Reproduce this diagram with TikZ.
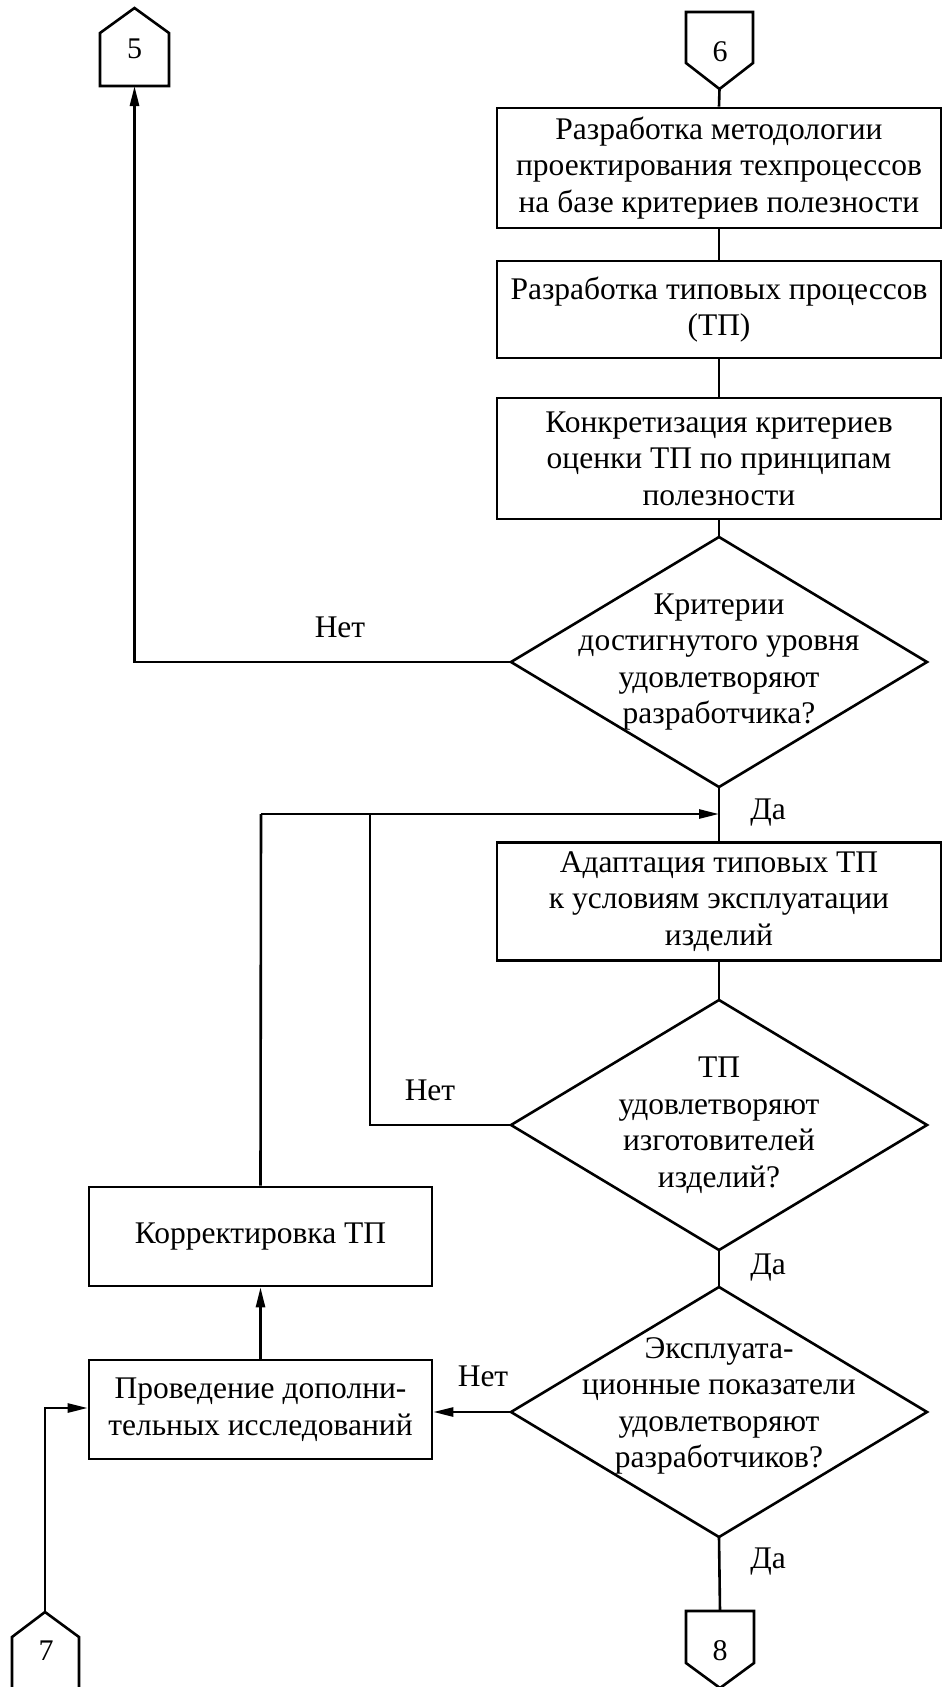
\documentclass[tikz,border=0pt]{standalone}
\usepackage{fontspec}
\setmainfont{Liberation Serif}
\usetikzlibrary{arrows.meta}
\newcommand\blockfont{\fontsize{31.5}{36.5}\selectfont}
\newcommand\digitfont{\fontsize{30}{30}\selectfont}

\begin{document}
\begin{tikzpicture}[x=1pt,y=-1pt,
  every node/.style={font=\blockfont},
  ln/.style={line width=2.6pt},
  arr/.style={ln, -{Triangle[length=20pt,width=9pt]}},
  proc/.style={draw, ln, align=center, inner sep=0pt, minimum width=444pt},
  side/.style={draw, ln, align=center, inner sep=0pt, minimum width=343pt, minimum height=99pt},
  dtext/.style={align=center, inner sep=0pt},
  lbl/.style={inner sep=0pt},
  digit/.style={font=\digitfont, inner sep=0pt}
]
\useasboundingbox (0,0) rectangle (943,1687);

% off-page connectors
\draw[ln] (100,86) -- (100,33) -- (134.5,8) -- (169,33) -- (169,86) -- cycle;
\node[digit] (c5) at (134.5,49) {5};
\coordinate (c5b) at (134.5,86);

\draw[ln] (686,12) -- (753,12) -- (753,63) -- (719.5,89) -- (686,63) -- cycle;
\node[digit] (c6) at (720,52) {6};
\coordinate (c6b) at (719.5,89);

\draw[ln] (12,1690) -- (12,1637) -- (45,1612) -- (79,1637) -- (79,1690);
\node[digit] (c7) at (46,1651) {7};
\coordinate (c7t) at (45,1612);

\draw[ln] (686,1611) -- (754,1611) -- (754,1663) -- (720,1688) -- (686,1663) -- cycle;
\node[digit] (c8) at (720,1651) {8};
\coordinate (c8t) at (720,1611);

% process blocks
\node[proc, minimum height=120pt] (b1) at (719,168)
  {Разработка методологии\\проектирования техпроцессов\\на базе критериев полезности};
\node[proc, minimum height=97pt] (b2) at (719,309.5)
  {Разработка типовых процессов\\(ТП)};
\node[proc, minimum height=121pt] (b3) at (719,458.5)
  {Конкретизация критериев\\оценки ТП по принципам\\полезности};
\node[proc, minimum height=118pt] (b4) at (719,901.5)
  {Адаптация типовых ТП\\к условиям эксплуатации\\изделий};
\node[side] (korr) at (260.5,1236.5) {Корректировка ТП};
\node[side] (prov) at (260.5,1409.5) {Проведение дополни-\\тельных исследований};

% decisions
\node[dtext] (d1) at (719,662)
  {Критерии\\достигнутого уровня\\удовлетворяют\\разработчика?};
\draw[ln] (d1.center) ++(0,-125) coordinate (d1n) -- ++(208,125) coordinate (d1e)
  -- ++(-208,125) coordinate (d1s) -- ++(-208,-125) coordinate (d1w) -- cycle;

\node[dtext] (d2) at (719,1125)
  {ТП\\удовлетворяют\\изготовителей\\изделий?};
\draw[ln] (d2.center) ++(0,-125) coordinate (d2n) -- ++(208,125) coordinate (d2e)
  -- ++(-208,125) coordinate (d2s) -- ++(-208,-125) coordinate (d2w) -- cycle;

\node[dtext] (d3) at (719,1406)
  {Эксплуата-\\ционные показатели\\удовлетворяют\\разработчиков?};
\draw[ln] (719,1412) ++(0,-125) coordinate (d3n) -- ++(208,125) coordinate (d3e)
  -- ++(-208,125) coordinate (d3s) -- ++(-208,-125) coordinate (d3w) -- cycle;

% main flow
\draw[ln] (c6b) -- (b1.north);
\draw[ln] (b1) -- (b2);
\draw[ln] (b2) -- (b3);
\draw[ln] (b3.south) -- (d1n);
\draw[ln] (d1s) -- (b4.north);
\draw[ln] (b4.south) -- (d2n);
\draw[ln] (d2s) -- (d3n);
\draw[ln] (d3s) -- (c8t);

% branches
\draw[arr] (d1w) -- (c5b |- d1w) -- (c5b);
\coordinate (merge) at (719,814);
\coordinate (loopA) at (261,814);
\coordinate (loopB) at (370,814);
\draw[arr] (loopA) -- (merge);
\draw[ln] (d2w) -- (loopB |- d2w) -- (loopB);
\draw[ln] (korr.north) -- (loopA);
\draw[arr] (d3w) -- (prov.east |- d3w);
\draw[arr] (prov.north) -- (korr.south);
\draw[arr] (c7t) -- (c7t |- 0,1408) -- (prov.west |- 0,1408);

% branch labels
\node[lbl] (n1) at (340,627) {Нет};
\node[lbl] (y1) at (768,813) {Да};
\node[lbl] (n2) at (430,1090) {Нет};
\node[lbl] (y2) at (768,1268) {Да};
\node[lbl] (n3) at (483,1376) {Нет};
\node[lbl] (y3) at (768,1562) {Да};
\end{tikzpicture}
\end{document}
